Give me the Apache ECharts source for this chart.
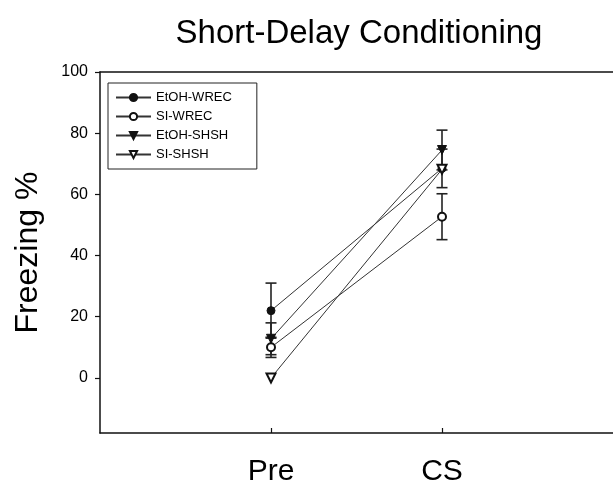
<!DOCTYPE html>
<html><head><meta charset="utf-8">
<script src="https://cdn.jsdelivr.net/npm/echarts@6/dist/echarts.min.js"></script>
<style>html,body{margin:0;padding:0;background:#fff}#c{width:613px;height:487px}</style>
</head><body><div id="c"></div>
<script>
const categories = ['Pre', 'CS'];
const seriesNames = ['EtOH-WREC', 'SI-WREC', 'EtOH-SHSH', 'SI-SHSH'];
const etohWrec = [22, 68.5];
const siWrec = [10, 52.7];
const etohShsh = [12.8, 74.5];
const siShsh = [0, 68.2];
const etohWrecErr = [9, 6.3];
const siWrecErr = [3.3, 7.5];
const etohShshErr = [5.2, 6.5];
const siShshErr = [0, 0];
const yTicks = [0, 20, 40, 60, 80, 100];
const xTicks = [1, 2];

const values = [etohWrec, siWrec, etohShsh, siShsh];
const errs = [etohWrecErr, siWrecErr, etohShshErr, siShshErr];
const symbols = ['circle', 'emptyCircle', 'triangle', 'emptyTriangle'];
const rot = [0, 0, 180, 180];
const FONT = 'Liberation Sans, Arial, sans-serif';

const chart = echarts.init(document.getElementById('c'), null, {renderer: 'canvas'});
const series = [];
values.forEach((v, i) => {
  series.push({
    type: 'custom', name: seriesNames[i] + '_err', silent: true, z: 1,
    data: v.map((y, k) => [k + 1, y - errs[i][k], y + errs[i][k]]),
    renderItem: (params, api) => {
      const x = api.value(0);
      if (api.value(2) - api.value(1) === 0) return null;
      const lo = api.coord([x, api.value(1)]);
      const hi = api.coord([x, api.value(2)]);
      const w = 5.5;
      const st = {stroke: '#222', lineWidth: 1.6};
      return {type: 'group', children: [
        {type: 'line', shape: {x1: lo[0], y1: lo[1], x2: hi[0], y2: hi[1]}, style: st},
        {type: 'line', shape: {x1: lo[0]-w, y1: lo[1], x2: lo[0]+w, y2: lo[1]}, style: st},
        {type: 'line', shape: {x1: hi[0]-w, y1: hi[1], x2: hi[0]+w, y2: hi[1]}, style: st}
      ]};
    }
  });
});
values.forEach((v, i) => {
  series.push({
    type: 'line', name: seriesNames[i], z: 3,
    data: v.map((y, k) => [k + 1, y]),
    symbol: symbols[i], symbolRotate: rot[i], symbolSize: i >= 2 ? 9 : 8,
    lineStyle: {color: '#333', width: 1},
    itemStyle: {color: '#111', borderColor: '#111', borderWidth: 1},
    emphasis: {disabled: true}
  });
});

chart.setOption({
  animation: false,
  backgroundColor: '#fff',
  title: {text: 'Short-Delay Conditioning', left: 354, top: 12, textAlign: 'center',
    textStyle: {fontFamily: FONT, fontSize: 33, fontWeight: 'normal', color: '#000'}},
  legend: {
    data: seriesNames, orient: 'vertical', left: 108, top: 83,
    itemWidth: 35, itemHeight: 9, itemGap: 6,
    padding: [8, 25, 8, 7],
    borderColor: '#222', borderWidth: 1,
    textStyle: {fontFamily: FONT, fontSize: 13, color: '#000'},
    selectedMode: false
  },
  grid: {left: 100, right: 0, top: 72, bottom: 54},
  xAxis: [{
    type: 'value', min: 0, max: 3, interval: 1,
    axisLine: {onZero: false, lineStyle: {color: '#111', width: 1.5}},
    axisTick: {inside: true, length: 5, customValues: xTicks, lineStyle: {color: '#111', width: 1.2}},
    splitLine: {show: false},
    axisLabel: {fontFamily: FONT, fontSize: 30, color: '#000', margin: 24, customValues: xTicks,
      formatter: v => (v >= 1 && v <= categories.length) ? categories[v - 1] : ''}
  }, {
    type: 'value', min: 0, max: 3, position: 'top',
    axisLine: {show: true, onZero: false, lineStyle: {color: '#111', width: 1.5}},
    axisTick: {show: false}, axisLabel: {show: false}, splitLine: {show: false}
  }],
  yAxis: {
    type: 'value', min: -18, max: 100,
    name: 'Freezing %', nameLocation: 'middle', nameGap: 56,
    nameTextStyle: {fontFamily: FONT, fontSize: 32, color: '#000'},
    axisLine: {onZero: false, lineStyle: {color: '#111', width: 1.5}},
    axisTick: {show: true, length: 5, customValues: yTicks, lineStyle: {color: '#111', width: 1.2}},
    splitLine: {show: false},
    axisLabel: {fontFamily: FONT, fontSize: 16, color: '#000', margin: 12, customValues: yTicks}
  },
  series: series
});
</script></body></html>
